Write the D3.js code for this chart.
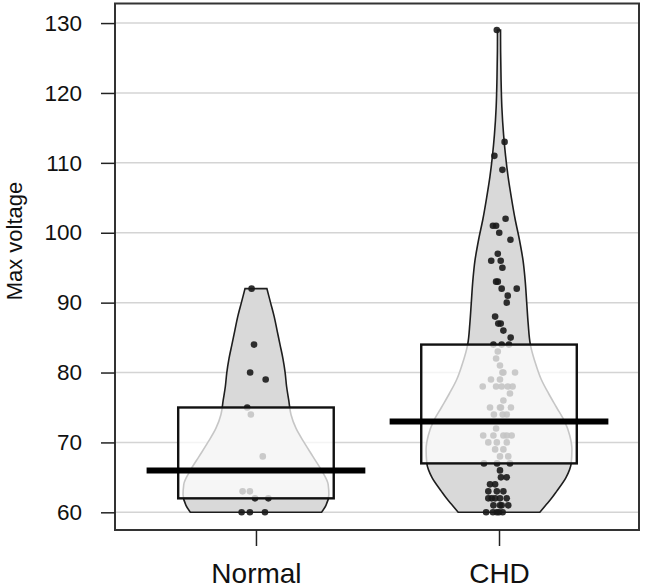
<!DOCTYPE html>
<html>
<head>
<meta charset="utf-8">
<script src="https://cdn.jsdelivr.net/npm/d3@7"></script>
<style>
  body { margin: 0; background: #fff; }
  text { font-family: "Liberation Sans", Arial, Helvetica, sans-serif; fill: #111; }
</style>
</head>
<body>
<div id="chart"></div>
<script>
// groups and the values
var groups = ["Normal", "CHD"];

var normalValues = [92, 84, 80, 79, 75, 74, 68, 63, 63, 62, 62, 60, 60, 60];
// horizontal jitter of each point, in group units
var normalJitter = [-0.018, -0.008, -0.024, 0.040, -0.036, -0.021, 0.028, -0.055, -0.025, -0.004, 0.051, -0.059, -0.025, 0.037];

var chdValues = [129, 113, 111, 109, 102, 101, 101, 100, 99, 97, 96, 96, 95, 93, 93, 92, 92, 91, 90, 88,
  87, 87, 86, 85, 84, 84, 84, 83, 82, 81, 80, 80, 80, 79, 79, 78, 78, 78, 78, 78,
  77, 76, 75, 75, 75, 75, 74, 74, 74, 72, 71, 71, 71, 71, 71, 70, 70, 70, 69, 69,
  68, 68, 67, 67, 67, 66, 65, 65, 64, 64, 63, 63, 63, 62, 62, 62, 62, 62, 61, 61,
  61, 61, 60, 60, 60, 60, 60];
var chdJitter = [-0.009, 0.023, -0.019, 0.014, 0.027, -0.025, -0.012, 0.001, 0.047, -0.005, -0.032, 0.007, 0.014, -0.005, -0.012, 0.011, 0.073, 0.036, 0.032, -0.016,
  -0.003, 0.007, 0.018, 0.048, -0.023, 0.011, 0.041, -0.005, -0.012, 0.004, 0.018, 0.066, 0.014, -0.033, 0.004, -0.067, -0.012, 0.011, 0.036, 0.056,
  0.045, 0.018, 0.008, -0.037, 0.049, 0.004, -0.021, 0.015, 0.032, -0.012, 0.032, -0.065, 0.052, -0.023, 0.018, -0.044, -0.009, 0.032, -0.016, 0.018,
  0.004, 0.038, -0.062, 0.045, -0.008, 0.004, 0.008, 0.032, -0.037, -0.016, -0.044, -0.009, 0.018, -0.030, 0.004, 0.032, -0.044, -0.016, 0.004, 0.038,
  -0.023, 0.011, -0.053, -0.009, 0.015, -0.025, 0];

// bean outlines: relative density at each value
var normalDensityAt = [60, 61, 62.5, 64, 66, 68, 70, 72, 74, 76, 78, 80, 82, 84, 86, 88, 90, 92];
var normalDensity = [0.90, 0.96, 1, 0.99, 0.90, 0.78, 0.66, 0.55, 0.48, 0.45, 0.42, 0.40, 0.37, 0.33, 0.29, 0.25, 0.20, 0.15];
var chdDensityAt = [60, 61, 62, 63, 65, 67, 69, 71, 73, 75, 77, 79, 81, 84, 87, 90, 93, 96, 99, 102, 105, 108, 111, 114, 118, 122, 126, 129];
var chdDensity = [0.56, 0.64, 0.72, 0.79, 0.92, 0.99, 1, 0.97, 0.90, 0.79, 0.68, 0.58, 0.51, 0.43, 0.40, 0.38, 0.36, 0.33, 0.28, 0.22, 0.17, 0.125, 0.09, 0.063, 0.039, 0.028, 0.022, 0.021];

// summary marks
var centerLine = [66, 73];
var boxLow = [62, 67];
var boxHigh = [75, 84];

var yTicks = [60, 70, 80, 90, 100, 110, 120, 130];
var yTitle = "Max voltage";

var width = 645, height = 588;
var pLeft = 115, pRight = 639, pTop = 3.5, pBottom = 530;
var beanWidth = 0.30, boxWidth = 0.32, lineWidth = 0.45;

var svg = d3.select("#chart").append("svg")
  .attr("width", width)
  .attr("height", height);

var x = d3.scaleLinear().domain([0.42, 2.576]).range([pLeft, pRight]);
var y = d3.scaleLinear().domain([57.47, 132.8]).range([pBottom, pTop]);

// grid lines behind everything
svg.selectAll(".grid").data(yTicks).enter()
  .append("line")
    .attr("class", "grid")
    .attr("x1", pLeft).attr("x2", pRight)
    .attr("y1", function (d) { return y(d); })
    .attr("y2", function (d) { return y(d); })
    .style("stroke", "#d4d4d4")
    .style("stroke-width", 1.5);

var data = [
  { values: normalValues, jitter: normalJitter, at: normalDensityAt, dens: normalDensity },
  { values: chdValues, jitter: chdJitter, at: chdDensityAt, dens: chdDensity }
];

data.forEach(function (g, i) {
  var c = i + 1;
  var bean = g.at.map(function (v, k) { return { v: v, w: g.dens[k] * beanWidth }; });

  var area = d3.area()
    .y(function (d) { return y(d.v); })
    .x0(function (d) { return x(c - d.w); })
    .x1(function (d) { return x(c + d.w); })
    .curve(d3.curveMonotoneY);

  svg.append("path")
    .datum(bean)
    .attr("d", area)
    .style("fill", "#d9d9d9")
    .style("stroke", "#1e1e1e")
    .style("stroke-width", 1.6);

  svg.selectAll(".pt" + i).data(g.values).enter()
    .append("circle")
      .attr("class", "pt" + i)
      .attr("cx", function (d, j) { return x(c + g.jitter[j]); })
      .attr("cy", function (d) { return y(d); })
      .attr("r", 3.3)
      .style("fill", "#1a1a1a")
      .style("opacity", 0.9);

  svg.append("rect")
    .attr("x", x(c - boxWidth))
    .attr("y", y(boxHigh[i]))
    .attr("width", x(c + boxWidth) - x(c - boxWidth))
    .attr("height", y(boxLow[i]) - y(boxHigh[i]))
    .style("fill", "#fff")
    .style("fill-opacity", 0.75)
    .style("stroke", "#111")
    .style("stroke-width", 2.4);

  svg.append("line")
    .attr("x1", x(c - lineWidth)).attr("x2", x(c + lineWidth))
    .attr("y1", y(centerLine[i])).attr("y2", y(centerLine[i]))
    .style("stroke", "#000")
    .style("stroke-width", 6);
});

// panel border
svg.append("rect")
  .attr("x", pLeft).attr("y", pTop)
  .attr("width", pRight - pLeft).attr("height", pBottom - pTop)
  .style("fill", "none")
  .style("stroke", "#333")
  .style("stroke-width", 2);

// y axis
var yAxis = svg.append("g")
  .attr("transform", "translate(" + pLeft + ",0)")
  .call(d3.axisLeft(y).tickValues(yTicks).tickSize(14).tickPadding(19));
yAxis.select(".domain").remove();
yAxis.selectAll(".tick line").style("stroke", "#222").style("stroke-width", 1.5);
yAxis.selectAll(".tick text")
  .style("font-size", "22.5px")
  .style("font-family", "Liberation Sans, Arial, sans-serif")
  .style("fill", "#111");

// x axis
var xAxis = svg.append("g")
  .attr("transform", "translate(0," + pBottom + ")")
  .call(d3.axisBottom(x).tickValues([1, 2]).tickSize(16).tickPadding(17)
    .tickFormat(function (d) { return groups[d - 1]; }));
xAxis.select(".domain").remove();
xAxis.selectAll(".tick line").style("stroke", "#222").style("stroke-width", 1.5);
xAxis.selectAll(".tick text")
  .style("font-size", "28px")
  .style("font-family", "Liberation Sans, Arial, sans-serif")
  .style("fill", "#111");

// y title
svg.append("text")
  .attr("transform", "translate(22,241) rotate(-90)")
  .attr("text-anchor", "middle")
  .style("font-size", "22px")
  .text(yTitle);
</script>
</body>
</html>
